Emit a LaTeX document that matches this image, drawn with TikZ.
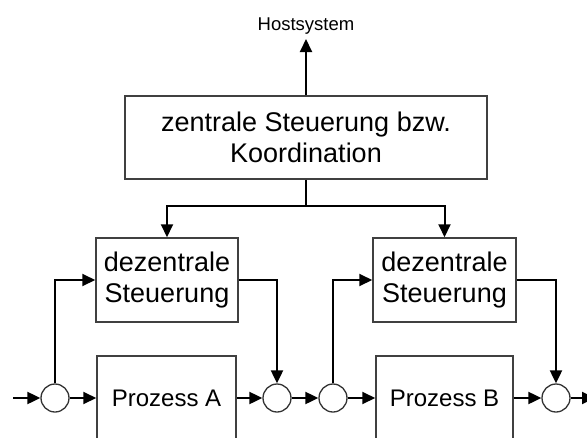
\documentclass[tikz,border=0pt]{standalone}
\usepackage{fontspec}
\setmainfont{Liberation Sans}
\usetikzlibrary{arrows.meta}
\begin{document}
\begin{tikzpicture}[x=1pt,y=-1pt,
  box/.style={draw=black!75, line width=1.5pt, inner sep=0pt, align=center, fill=white},
  big/.style={font=\fontsize{27}{31}\selectfont},
  proc/.style={box, font=\fontsize{24}{28}\selectfont, minimum height=84pt},
  sumpt/.style={circle, draw=black!80, line width=1.3pt, minimum size=28pt, inner sep=0pt, fill=white},
  conn/.style={line width=2pt, -{Triangle[length=13pt,width=12pt]}},
  plain/.style={line width=2pt}]
\useasboundingbox (0,0) rectangle (587,437);
\clip (0,0) rectangle (587,437);
% nodes
\node[font=\fontsize{18.5}{20}\selectfont, anchor=base, inner sep=0pt] (host) at (306,30) {Hostsystem};
\coordinate (hostin) at (306,39);
\node[box, big, minimum width=362pt, minimum height=83pt] (top) at (306,137.5) {zentrale Steuerung bzw.\\Koordination};
\coordinate (j) at (306,206);
\node[box, big, minimum width=142pt, minimum height=84pt] (dezA) at (167,280) {dezentrale\\Steuerung};
\node[box, big, minimum width=143pt, minimum height=84pt] (dezB) at (444.5,280) {dezentrale\\Steuerung};
\node[proc, minimum width=139pt] (pA) at (166.5,398) {Prozess A};
\node[proc, minimum width=137pt] (pB) at (444.5,398) {Prozess B};
\node[sumpt] (sA1) at (55,398) {};
\node[sumpt] (sA2) at (277,398) {};
\node[sumpt] (sB1) at (333,398) {};
\node[sumpt] (sB2) at (556,398) {};
\coordinate (in) at (13,398);
\coordinate (out) at (595,398);
% connectors
\draw[conn] (top.north) -- (hostin);
\draw[plain] (top.south) -- (j);
\draw[conn] (j) -| (dezA.north);
\draw[conn] (j) -| (dezB.north);
\draw[conn] (in) -- (sA1.west);
\draw[conn] (sA1.east) -- (pA.west);
\draw[conn] (pA.east) -- (sA2.west);
\draw[conn] (sA1.north) |- (dezA.west);
\draw[conn] (dezA.east) -| (sA2.north);
\draw[conn] (sA2.east) -- (sB1.west);
\draw[conn] (sB1.east) -- (pB.west);
\draw[conn] (pB.east) -- (sB2.west);
\draw[conn] (sB1.north) |- (dezB.west);
\draw[conn] (dezB.east) -| (sB2.north);
\draw[conn] (sB2.east) -- (out);
\end{tikzpicture}
\end{document}
